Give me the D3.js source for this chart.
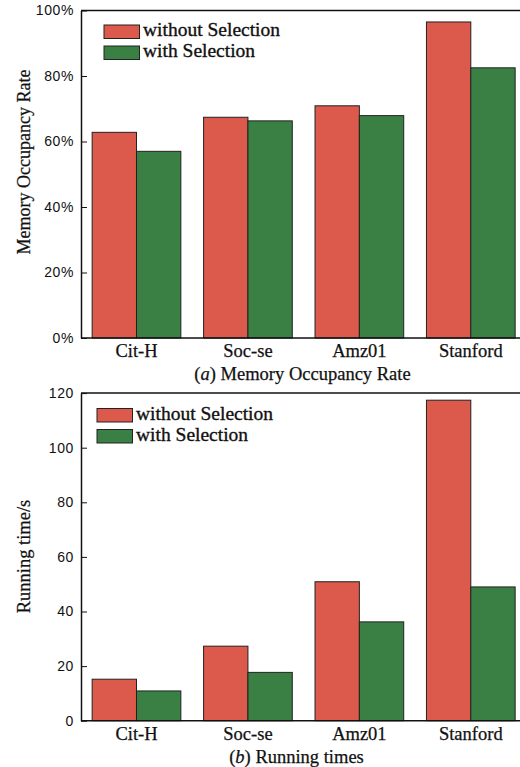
<!doctype html>
<html lang="en">
<head>
  <meta charset="utf-8">
  <title>Memory occupancy and running times</title>
  <style>
    body { margin: 0; background: #fff; }
    .serif { font-family: 'Liberation Serif', 'Times New Roman', serif; fill: #111; stroke: #111; stroke-width: 0.25px; }
    .tick text { font-family: 'Liberation Sans', Arial, sans-serif; font-size: 14px; letter-spacing: 0.6px; fill: #111; }
  </style>
</head>
<body>
  <script src="https://cdn.jsdelivr.net/npm/d3@7/dist/d3.min.js"></script>
  <script>
    var categories = ['Cit-H', 'Soc-se', 'Amz01', 'Stanford']
    var seriesNames = ['without Selection', 'with Selection']
    var seriesColors = ['#dc5a4b', '#3a8045']

    // (a) memory occupancy rate, percent
    var memWithout = [62.8, 67.4, 70.9, 96.5]
    var memWith = [57.0, 66.3, 67.9, 82.5]
    var memTicks = [0, 20, 40, 60, 80, 100]

    // (b) running time, seconds
    var timeWithout = [15.2, 27.3, 50.9, 117.4]
    var timeWith = [10.9, 17.7, 36.2, 49.0]
    var timeTicks = [0, 20, 40, 60, 80, 100, 120]

    var svg = d3.select('body').append('svg')
      .attr('width', 520)
      .attr('height', 767)

    function panel(opts) {
      var g = svg.append('g')
      var left = 81, right = 526.3

      var x0 = d3.scaleBand()
        .domain(categories)
        .range([left, right])
        .paddingInner(0.204)
        .paddingOuter(0.1)

      var x1 = d3.scaleBand()
        .domain([0, 1])
        .range([0, x0.bandwidth()])

      var y = d3.scaleLinear()
        .domain([0, opts.max])
        .range([opts.bottom, opts.top])

      var rows = categories.map(function(c, i) {
        return { cat: c, values: [opts.series[0][i], opts.series[1][i]] }
      })

      var group = g.selectAll('.grp')
        .data(rows)
        .enter().append('g')
        .attr('class', 'grp')
        .attr('transform', function(d) { return 'translate(' + x0(d.cat) + ',0)' })

      group.selectAll('rect')
        .data(function(d) { return d.values })
        .enter().append('rect')
        .attr('x', function(d, i) { return x1(i) })
        .attr('y', function(d) { return y(d) })
        .attr('width', x1.bandwidth())
        .attr('height', function(d) { return opts.bottom - y(d) })
        .style('fill', function(d, i) { return seriesColors[i] })
        .style('stroke', '#222')
        .style('stroke-width', 1)

      // y axis, ticks pointing inward
      var yAxis = d3.axisLeft(y)
        .tickValues(opts.ticks)
        .tickSizeInner(-6)
        .tickSizeOuter(0)
        .tickPadding(7)
        .tickFormat(opts.fmt)

      var ya = g.append('g')
        .attr('transform', 'translate(' + left + ',0)')
        .call(yAxis)
      ya.select('.domain').style('stroke', '#111').style('stroke-width', 1.5)
      ya.selectAll('.tick line').style('stroke', '#111').style('stroke-width', 1)

      // bottom and top frame lines
      g.append('line')
        .attr('x1', left).attr('x2', 520)
        .attr('y1', opts.bottom).attr('y2', opts.bottom)
        .style('stroke', '#111').style('stroke-width', 1.5)
      g.append('line')
        .attr('x1', left).attr('x2', 520)
        .attr('y1', opts.top).attr('y2', opts.top)
        .style('stroke', '#111').style('stroke-width', 1.5)

      // category labels
      g.selectAll('.cat')
        .data(categories)
        .enter().append('text')
        .attr('class', 'serif')
        .attr('x', function(d) { return x0(d) + x0.bandwidth() / 2 })
        .attr('y', opts.bottom + 19)
        .attr('text-anchor', 'middle')
        .style('font-size', '18.5px')
        .text(function(d) { return d })

      // y title
      g.append('text')
        .attr('class', 'serif')
        .attr('transform', 'translate(' + 30 + ',' + opts.titleY + ') rotate(-90)')
        .attr('text-anchor', 'middle')
        .style('font-size', opts.titleSize)
        .text(opts.title)

      // caption
      var cap = g.append('text')
        .attr('class', 'serif')
        .attr('x', opts.capX)
        .attr('y', opts.bottom + opts.capGap)
        .attr('text-anchor', 'middle')
        .style('font-size', '18.5px')
      cap.append('tspan').text('(')
      cap.append('tspan').style('font-style', 'italic').text(opts.capLetter)
      cap.append('tspan').text(') ' + opts.caption)

      // legend
      var leg = g.selectAll('.leg')
        .data(seriesNames)
        .enter().append('g')
        .attr('class', 'leg')
        .attr('transform', function(d, i) { return 'translate(' + opts.legX + ',' + (opts.legY + i * 21) + ')' })

      leg.append('rect')
        .attr('width', 35.5)
        .attr('height', 13.5)
        .style('fill', function(d, i) { return seriesColors[i] })
        .style('stroke', '#222')
        .style('stroke-width', 1)

      leg.append('text')
        .attr('class', 'serif')
        .attr('x', 39)
        .attr('y', 11)
        .style('font-size', '19.5px')
        .style('stroke-width', 0.35)
        .text(function(d) { return d })
    }

    panel({
      top: 10.5, bottom: 338, max: 100,
      series: [memWithout, memWith],
      ticks: memTicks,
      fmt: function(d) { return d + '%' },
      title: 'Memory Occupancy Rate', titleY: 162, titleSize: '18px',
      caption: 'Memory Occupancy Rate', capLetter: 'a', capX: 302.5, capGap: 41.5,
      legX: 104, legY: 25
    })

    panel({
      top: 393.1, bottom: 720.7, max: 120,
      series: [timeWithout, timeWith],
      ticks: timeTicks,
      fmt: function(d) { return d },
      title: 'Running time/s', titleY: 556.5, titleSize: '18.5px',
      caption: 'Running times', capLetter: 'b', capX: 296.5, capGap: 42.5,
      legX: 97, legY: 408.5
    })
  </script>
</body>
</html>
